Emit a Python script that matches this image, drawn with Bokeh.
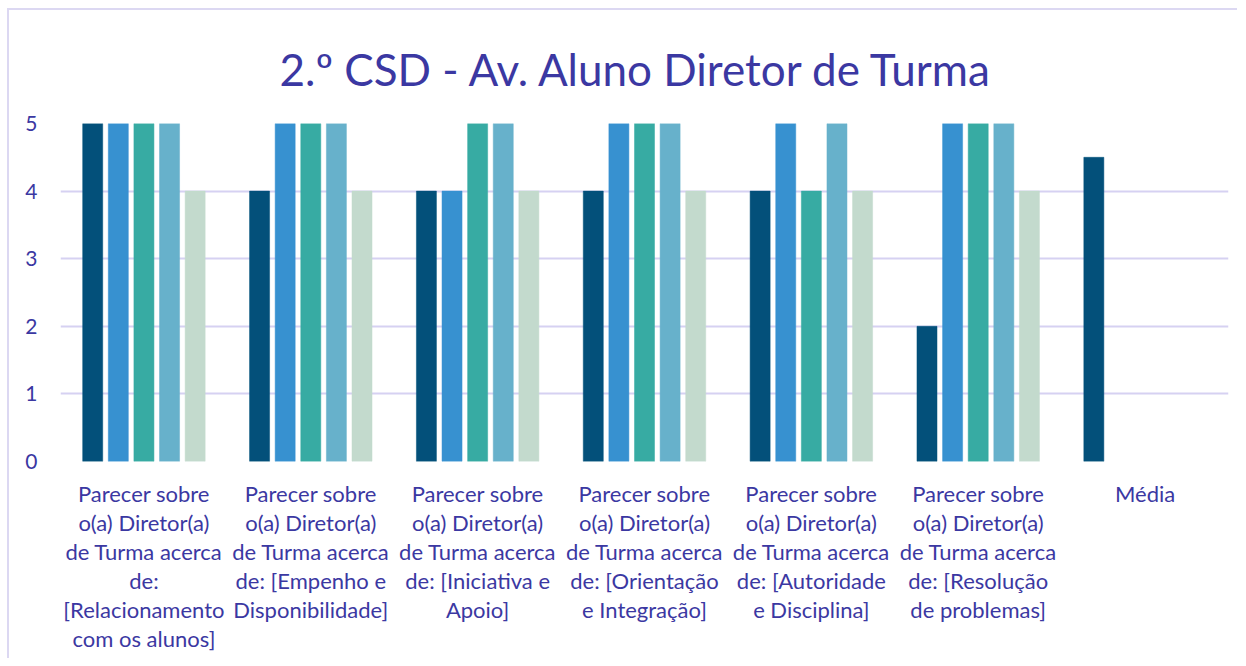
from bokeh.plotting import figure
from bokeh.models import ColumnDataSource, FixedTicker
from bokeh.transform import dodge
from bokeh.embed import file_html
from bokeh.resources import INLINE

title = "2.º CSD - Av. Aluno Diretor de Turma"
categories = [
    "Parecer sobre o(a) Diretor(a) de Turma acerca de: [Relacionamento com os alunos]",
    "Parecer sobre o(a) Diretor(a) de Turma acerca de: [Empenho e Disponibilidade]",
    "Parecer sobre o(a) Diretor(a) de Turma acerca de: [Iniciativa e Apoio]",
    "Parecer sobre o(a) Diretor(a) de Turma acerca de: [Orientação e Integração]",
    "Parecer sobre o(a) Diretor(a) de Turma acerca de: [Autoridade e Disciplina]",
    "Parecer sobre o(a) Diretor(a) de Turma acerca de: [Resolução de problemas]",
    "Média",
]
tick_labels = [
    "Parecer sobre\no(a) Diretor(a)\nde Turma acerca\nde:\n[Relacionamento\ncom os alunos]",
    "Parecer sobre\no(a) Diretor(a)\nde Turma acerca\nde: [Empenho e\nDisponibilidade]",
    "Parecer sobre\no(a) Diretor(a)\nde Turma acerca\nde: [Iniciativa e\nApoio]",
    "Parecer sobre\no(a) Diretor(a)\nde Turma acerca\nde: [Orientação\ne Integração]",
    "Parecer sobre\no(a) Diretor(a)\nde Turma acerca\nde: [Autoridade\ne Disciplina]",
    "Parecer sobre\no(a) Diretor(a)\nde Turma acerca\nde: [Resolução\nde problemas]",
    "Média",
]
nan = float("nan")
series_1 = [5, 4, 4, 4, 4, 2, 4.5]
series_2 = [5, 5, 4, 5, 5, 5, nan]
series_3 = [5, 5, 5, 5, 4, 5, nan]
series_4 = [5, 5, 5, 5, 5, 5, nan]
series_5 = [4, 4, 4, 4, 4, 4, nan]
y_ticks = [0, 1, 2, 3, 4, 5]

colors = ["#03507A", "#3791D0", "#37ABA3", "#67B1CB", "#C3DACD"]
offsets = [-0.307, -0.1535, 0.0, 0.1535, 0.307]

text_color = "#3B38A2"
grid_color = "#D6D1F2"
font = "Lato"

x_centers = [i + 0.5 for i in range(len(categories))]

p = figure(width=1230, height=650, x_range=(0, len(categories)), y_range=(0, 5),
           output_backend="svg", toolbar_location=None, title=title,
           min_border_left=51, min_border_right=11, min_border_top=113, min_border_bottom=199)
p.styles = {"border-top": "2px solid #DCD8F2", "border-left": "2px solid #DCD8F2",
            "margin-top": "8px", "margin-left": "7px"}

src = ColumnDataSource(dict(x=x_centers, s1=series_1, s2=series_2, s3=series_3,
                            s4=series_4, s5=series_5))
for k, (col, off) in enumerate(zip(colors, offsets)):
    p.vbar(x=dodge("x", off), top="s%d" % (k + 1), bottom=0, width=0.12, source=src,
           fill_color=col, line_color=col, line_width=0.5)

p.title.text_font = font
p.title.text_font_size = "44px"
p.title.text_font_style = "normal"
p.title.text_color = text_color
p.title.align = "left"
p.title.offset = 219
p.title.standoff = 58

p.outline_line_color = None
p.xgrid.grid_line_color = None
p.ygrid.grid_line_color = grid_color
p.ygrid.grid_line_width = 2
p.ygrid.ticker = FixedTicker(ticks=y_ticks)

p.yaxis.ticker = FixedTicker(ticks=y_ticks)
p.xaxis.ticker = FixedTicker(ticks=x_centers)
p.xaxis.major_label_overrides = {x: lab for x, lab in zip(x_centers, tick_labels)}

for ax in (p.xaxis[0], p.yaxis[0]):
    ax.axis_line_color = None
    ax.major_tick_line_color = None
    ax.minor_tick_line_color = None
    ax.major_label_text_font = font
    ax.major_label_text_color = text_color

p.xaxis.major_label_text_font_size = "22px"
p.yaxis.major_label_text_font_size = "21px"
p.yaxis.major_label_standoff = 17
p.xaxis.major_label_standoff = 12
p.xaxis.major_label_text_line_height = 1.08

open("out.html", "w").write(file_html(p, INLINE))
